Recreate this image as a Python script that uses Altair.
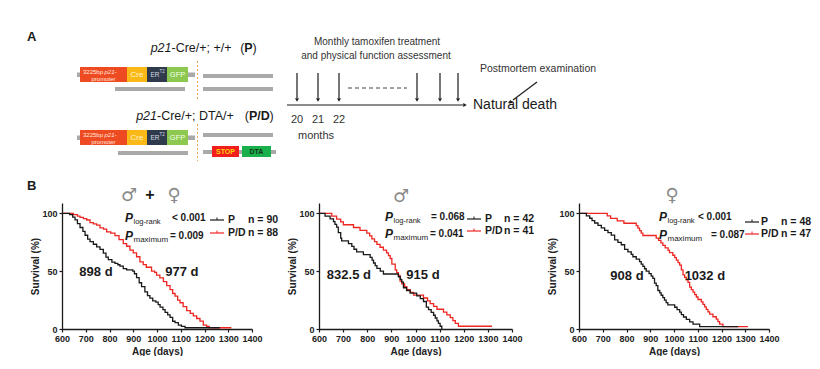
import altair as alt
import pandas as pd

# ---------------- data ----------------
# Kaplan-Meier curves: [age (days), survival (%)]
ALL_P = [[600,100],[632,98.9],[645,96.7],[655,94.4],[665,91.1],[676,87.8],[688,84.4],[697,81.1],
         [708,77.8],[718,75.6],[732,73.3],[746,71.1],[760,68.9],[774,65.6],[785,62.2],[795,60],
         [810,57.8],[823,56.7],[835,55.6],[844,54.4],[858,52.2],[872,51.1],[898,50],[905,47.8],
         [914,44.4],[925,40],[935,36.7],[949,32.2],[960,28.9],[970,26.7],[982,24.4],[995,23.3],
         [1005,21.1],[1013,18.9],[1025,16.7],[1034,14.4],[1045,12.2],[1055,10],[1066,6.7],
         [1076,5.6],[1090,3.3],[1103,2.2],[1118,1.1],[1265,1.1]]
ALL_PD = [[600,100],[648,98.9],[665,97.7],[676,96.6],[690,95.5],[704,94.3],[718,92],[732,90.9],
          [746,89.8],[760,87.5],[775,86.4],[788,84.1],[805,83],[823,80.7],[840,77.3],[858,73.9],
          [872,71.6],[886,68.2],[900,65.9],[914,62.5],[928,58],[942,55.7],[955,53.4],[977,50],
          [990,48.9],[998,46.6],[1012,44.3],[1027,40.9],[1041,37.5],[1055,34.1],[1066,30.7],
          [1076,28.4],[1087,25],[1097,22.7],[1110,19.3],[1125,15.9],[1140,13.6],[1153,11.4],
          [1167,9.1],[1181,6.8],[1195,3.4],[1209,2.3],[1220,1.1],[1313,1.1]]
MALE_P = [[600,100],[625,97.6],[646,95.2],[660,92.9],[666,90.5],[673,88.1],[680,83.3],[690,78.6],
          [694,76.2],[722,73.8],[736,71.4],[745,69],[756,66.7],[784,64.3],[812,61.9],[820,59.5],
          [826,57.1],[833,54.8],[840,52.4],[854,50],[867,47.6],[929,45.2],[937,42.9],[943,40.5],
          [950,35.7],[963,33.3],[978,31],[1005,28.6],[1020,26.2],[1033,23.8],[1045,19],[1054,16.7],
          [1065,14.3],[1075,11.9],[1082,9.5],[1089,7.1],[1095,4.8],[1102,2.4],[1109,0]]
MALE_PD = [[600,100],[653,97.6],[673,95.1],[690,92.7],[701,90.2],[743,87.8],[770,85.4],[798,82.9],
           [810,80.5],[819,78],[830,75.6],[840,73.2],[853,70.7],[867,68.3],[880,65.9],[888,63.4],
           [895,61],[902,56.1],[916,51.2],[922,48.8],[929,46.3],[936,41.5],[943,39],[955,36.6],
           [964,34.1],[978,31.7],[992,29.3],[1033,26.8],[1050,24.4],[1061,22],[1075,19.5],
           [1089,17.1],[1116,14.6],[1130,12.2],[1144,9.8],[1155,7.3],[1165,4.9],[1178,2.4],[1317,2.4]]
FEM_P = [[600,100],[631,97.9],[645,95.8],[655,93.8],[666,91.7],[680,89.6],[694,87.5],[708,85.4],
         [722,83.3],[736,81.2],[750,77.1],[764,75],[778,72.9],[792,68.8],[806,66.7],[820,64.6],
         [827,62.5],[841,60.4],[855,58.3],[862,56.2],[869,54.2],[876,52.1],[883,50],[895,47.9],
         [904,45.8],[911,43.8],[918,39.6],[925,37.5],[932,33.3],[940,31.2],[946,29.2],[953,27.1],
         [960,25],[967,22.9],[974,20.8],[1003,18.8],[1013,16.7],[1024,14.6],[1031,12.5],
         [1040,10.4],[1052,8.3],[1066,6.2],[1080,4.2],[1108,2.1],[1270,2.1]]
FEM_PD = [[600,100],[719,97.9],[733,95.7],[761,93.6],[789,91.5],[841,89.4],[848,87.2],[855,85.1],
          [862,83],[869,80.9],[925,78.7],[935,76.6],[945,74.5],[953,72.3],[963,70.2],[975,68.1],
          [981,66],[995,63.8],[1003,61.7],[1010,59.6],[1017,57.4],[1024,55.3],[1031,51.1],
          [1038,46.8],[1045,44.7],[1052,42.6],[1059,40.4],[1066,36.2],[1073,34],[1080,31.9],
          [1087,29.8],[1094,27.7],[1101,25.5],[1115,23.4],[1122,21.3],[1129,19.1],[1136,17],
          [1143,14.9],[1150,12.8],[1164,10.6],[1178,8.5],[1185,6.4],[1192,4.3],[1206,2.1],[1311,2.1]]

P_LOGRANK = ["< 0.001", "= 0.068", "< 0.001"]
P_MAXIMUM = ["= 0.009", "= 0.041", "= 0.087"]
N_P = [90, 42, 48]
N_PD = [88, 41, 47]
MEDIAN_P = ["898 d", "832.5 d", "908 d"]
MEDIAN_PD = ["977 d", "915 d", "1032 d"]
X_TICKS = [600, 700, 800, 900, 1000, 1100, 1200, 1300, 1400]
Y_TICKS = [0, 50, 100]
MONTHS = ["20", "21", "22"]

# ---------------- styling / layout ----------------
BLACK = "#1a1a1a"
RED = "#ee2622"
GRAY = "#a9a9a9"
DARK = "#333333"
FONT = "Liberation Sans"
SYM = "DejaVu Sans"
W = [190, 193, 190]
H = 126
SP = 67
OX = [62, 62 + W[0] + SP, 62 + W[0] + SP + W[1] + SP]
OY = 203


def T(rows, ox, weight="normal", style="normal", align="left", font=FONT):
    df = pd.DataFrame({"x": [r[0] - ox for r in rows], "y": [r[1] - OY for r in rows],
                       "t": [r[2] for r in rows], "s": [r[3] for r in rows],
                       "c": [r[4] for r in rows]})
    return alt.Chart(df).mark_text(font=font, fontWeight=weight, fontStyle=style,
                                   align=align, baseline="middle").encode(
        x=alt.X("x:Q", scale=None), y=alt.Y("y:Q", scale=None), text=alt.Text("t:N"),
        size=alt.Size("s:Q", scale=None), color=alt.Color("c:N", scale=None))


def R(rows, ox, opacity=1.0):
    df = pd.DataFrame({"x": [r[0] - ox for r in rows], "y": [r[1] - OY for r in rows],
                       "x2": [r[2] - ox for r in rows], "y2": [r[3] - OY for r in rows],
                       "c": [r[4] for r in rows]})
    return alt.Chart(df).mark_rect(opacity=opacity).encode(
        x=alt.X("x:Q", scale=None), x2="x2:Q", y=alt.Y("y:Q", scale=None), y2="y2:Q",
        color=alt.Color("c:N", scale=None))


def L(rows, ox, width=1.2, dash=None, color=BLACK):
    kw = dict(strokeWidth=width, color=color)
    if dash:
        kw["strokeDash"] = dash
    df = pd.DataFrame({"x": [r[0] - ox for r in rows], "y": [r[1] - OY for r in rows],
                       "x2": [r[2] - ox for r in rows], "y2": [r[3] - OY for r in rows]})
    return alt.Chart(df).mark_rule(**kw).encode(
        x=alt.X("x:Q", scale=None), x2="x2:Q", y=alt.Y("y:Q", scale=None), y2="y2:Q")


def PT(rows, ox, shape, size, angle=0, color=BLACK):
    df = pd.DataFrame({"x": [r[0] - ox for r in rows], "y": [r[1] - OY for r in rows]})
    return alt.Chart(df).mark_point(shape=shape, filled=True, size=size, color=color,
                                    opacity=1, angle=angle, strokeWidth=0).encode(
        x=alt.X("x:Q", scale=None), y=alt.Y("y:Q", scale=None))


def km(i, p, pdd, med_pos, ann):
    ox = OX[i]
    xs = alt.Scale(domain=[600, 1400], nice=False, zero=False)
    ys = alt.Scale(domain=[0, 109], nice=False)
    ax_x = alt.Axis(values=X_TICKS, title="Age (days)", format="d", labelFlush=False)
    ax_y = alt.Axis(values=Y_TICKS, title="Survival (%)", format="d", labelFlush=False)
    df_pd = pd.DataFrame({"day": [d for d, s in pdd], "surv": [s for d, s in pdd]})
    df_p = pd.DataFrame({"day": [d for d, s in p], "surv": [s for d, s in p]})
    red = alt.Chart(df_pd).mark_line(interpolate="step-after", strokeWidth=1.3, color=RED).encode(
        x=alt.X("day:Q", scale=xs, axis=ax_x), y=alt.Y("surv:Q", scale=ys, axis=ax_y))
    blk = alt.Chart(df_p).mark_line(interpolate="step-after", strokeWidth=1.3, color=BLACK).encode(
        x=alt.X("day:Q", scale=xs, axis=ax_x), y=alt.Y("surv:Q", scale=ys, axis=ax_y))
    med = alt.Chart(pd.DataFrame({"day": [med_pos[0][0], med_pos[1][0]],
                                  "surv": [med_pos[0][1], med_pos[1][1]],
                                  "t": [MEDIAN_P[i], MEDIAN_PD[i]]})).mark_text(
        font=FONT, fontWeight="bold", fontSize=13, color=BLACK).encode(
        x=alt.X("day:Q", scale=xs, axis=ax_x), y=alt.Y("surv:Q", scale=ys, axis=ax_y),
        text="t:N")
    a = ann
    sx = a["px"] + 8.5
    layers = [red, blk, med,
              # P values
              T([(a["px"], a["r1"], "P", 12, BLACK), (a["px"], a["r2"], "P", 12, BLACK)], ox,
                weight="bold", style="italic"),
              T([(sx, a["r1"] + 4, "log-rank", 7.5, BLACK),
                 (sx, a["r2"] + 4, "maximum", 8, BLACK)], ox),
              T([(a["v1"], a["r1"], P_LOGRANK[i], 10, BLACK),
                 (a["v2"], a["r2"], P_MAXIMUM[i], 10, BLACK)], ox, weight="bold"),
              # legend
              L([(a["lx"], a["l1"], a["lx"] + 14, a["l1"])], ox, 1.2, color=BLACK),
              L([(a["lx"] + 7, a["l1"] - 2.5, a["lx"] + 7, a["l1"])], ox, 1.0, color=BLACK),
              L([(a["lx"], a["l2"], a["lx"] + 14, a["l2"])], ox, 1.2, color=RED),
              L([(a["lx"] + 7, a["l2"] - 2.5, a["lx"] + 7, a["l2"])], ox, 1.0, color=RED),
              T([(a["tx"], a["l1"], "P", 10.5, BLACK), (a["tx"], a["l2"], "P/D", 10.5, BLACK),
                 (a["nx"], a["l1"], f"n = {N_P[i]}", 10.5, BLACK),
                 (a["nx"], a["l2"], f"n = {N_PD[i]}", 10.5, BLACK)], ox, weight="bold"),
              ]
    return layers


ANN = [
    dict(px=125, v1=172, v2=170, r1=218, r2=236, lx=210, l1=220, l2=233, tx=228, nx=248),
    dict(px=385, v1=431, v2=430, r1=217, r2=234, lx=467, l1=219, l2=231, tx=485, nx=504),
    dict(px=659, v1=698, v2=711, r1=217, r2=235, lx=745, l1=222, l2=234, tx=761, nx=781),
]
MED_POS = [[(743, 49), (1105, 49)], [(724, 46.5), (1031, 46.5)], [(802, 45.7), (1130, 45.7)]]

# ---------------- panel A schematic (drawn in page pixels) ----------------
o = OX[0]
schem = []
schem.append(R([(8, 8, 9, 9, "#ffffff")], o, opacity=0.0))  # page anchor
boxes = []
for dy in (0, 63):
    boxes += [(77, 72.5 + dy, 195, 77 + dy, GRAY),
              (80, 67 + dy, 127, 82 + dy, "#ef4b23"),
              (127, 67 + dy, 147, 82 + dy, "#fbb917"),
              (147, 67 + dy, 167, 82 + dy, "#2f3a4c"),
              (167, 67 + dy, 188, 82 + dy, "#8dc851")]
boxes += [(203, 74, 273, 78, GRAY), (203, 87, 273, 91, GRAY), (115, 87, 185, 91, GRAY),
          (203, 133, 273, 137, GRAY), (203, 150, 276, 154, GRAY), (118, 151, 188, 155, GRAY),
          (212, 146, 239, 157, "#f21d1d"), (242, 146, 271, 157, "#19b04b")]
schem.append(R(boxes, o))
schem.append(L([(197.5, 61, 197.5, 99), (197.5, 124, 197.5, 161)], o, 1.0, dash=[2, 2],
               color="#f3a65a"))
box_txt = []
for dy in (0, 63):
    box_txt += [(103.5, 78.5 + dy, "promoter", 6, "#ffe9df"),
                (137, 75 + dy, "Cre", 8, "#fff3cf"),
                (155, 75 + dy, "ER", 6.5, "#d5dbe4"),
                (177.5, 75 + dy, "GFP", 7.5, "#f4ffe8")]
schem.append(T(box_txt, o, align="center"))
schem.append(T([(103, 71.5, "3225bp", 6, "#ffe9df"), (103, 134.5, "3225bp", 6, "#ffe9df")], o,
               align="right"))
schem.append(T([(104.5, 71.5, "p21-", 6, "#ffe9df"), (104.5, 134.5, "p21-", 6, "#ffe9df")], o,
               style="italic"))
schem.append(T([(159.5, 72, "T2", 4.5, "#d5dbe4"), (159.5, 135, "T2", 4.5, "#d5dbe4")], o))
schem.append(T([(225.5, 151.5, "STOP", 7, "#ffd400"), (256.5, 151.5, "DTA", 7, "#12331a")], o,
               weight="bold", align="center"))
# genotype titles
schem.append(T([(171.5, 48, "p21", 12.5, BLACK), (157, 116, "p21", 12.5, BLACK)], o,
               style="italic", align="right"))
schem.append(T([(171.5, 48, "-Cre/+; +/+", 12.5, BLACK), (157, 116, "-Cre/+; DTA/+", 12.5, BLACK),
                (252.5, 48, ")", 12.5, BLACK), (269.5, 116, ")", 12.5, BLACK)], o))
schem.append(T([(244.5, 48, "(", 12.5, BLACK), (249, 116, "(", 12.5, BLACK)], o, align="right"))
schem.append(T([(248.5, 48, "P", 12.5, BLACK), (259.3, 116, "P/D", 12.5, BLACK)], o,
               weight="bold", align="center"))
# panel labels
schem.append(T([(27, 37, "A", 13, BLACK), (27, 186, "B", 13, BLACK)], o, weight="bold"))
# timeline
arrow_x = [297, 318, 339, 417, 440, 458]
schem.append(L([(x, 73, x, 98) for x in arrow_x], o, 1.2, color=BLACK))
schem.append(PT([(x, 100) for x in arrow_x], o, "triangle-down", 16))
schem.append(L([(348, 88, 407, 88)], o, 1.0, dash=[4, 3], color="#444444"))
schem.append(L([(287, 105, 463, 105)], o, 1.2, color=BLACK))
schem.append(PT([(465, 105)], o, "triangle-right", 16))
schem.append(L([(537, 82, 513, 100)], o, 1.2, color=BLACK))
schem.append(PT([(510.5, 102)], o, "triangle", 16, angle=233))
schem.append(T([(377, 42, "Monthly tamoxifen treatment", 10, DARK),
                (376, 56, "and physical function assessment", 10, DARK),
                (297, 120, MONTHS[0], 11, DARK), (318, 120, MONTHS[1], 11, DARK),
                (339, 120, MONTHS[2], 11, DARK), (316, 136, "months", 11, DARK)], o,
               align="center"))
schem.append(T([(473, 105, "Natural death", 14, BLACK),
                (480, 69, "Postmortem examination", 10.5, DARK)], o))

# sex symbols
sym1 = [T([(129, 196, "♂", 18, "#8a8a8a"), (174, 196, "♀", 18, "#8a8a8a")], OX[0], font=SYM,
          align="center"),
        T([(150, 195, "+", 16, BLACK)], OX[0], weight="bold", align="center")]
sym2 = [T([(401, 197, "♂", 18, "#8a8a8a")], OX[1], font=SYM, align="center")]
sym3 = [T([(672, 196, "♀", 18, "#8a8a8a")], OX[2], font=SYM, align="center")]

p1 = alt.layer(*(km(0, ALL_P, ALL_PD, MED_POS[0], ANN[0]) + sym1 + schem)).properties(
    width=W[0], height=H)
p2 = alt.layer(*(km(1, MALE_P, MALE_PD, MED_POS[1], ANN[1]) + sym2)).properties(
    width=W[1], height=H)
p3 = alt.layer(*(km(2, FEM_P, FEM_PD, MED_POS[2], ANN[2]) + sym3)).properties(
    width=W[2], height=H)

chart = alt.hconcat(p1, p2, p3, spacing=SP, bounds="flush").properties(
    padding={"left": 0, "top": 0, "right": 0, "bottom": 0}
).configure_view(stroke=None).configure_axis(
    domainColor=BLACK, domainWidth=1.3, tickColor=BLACK, tickWidth=1.2, tickSize=3,
    labelFont=FONT, labelFontSize=9, labelFontWeight="bold", labelColor="#222222",
    titleFont=FONT, titleFontSize=10, titleFontWeight="bold", titleColor="#222222",
    grid=False, labelOverlap=False, labelPadding=2
).configure_axisY(titlePadding=1).configure_axisX(titlePadding=3)

chart.save("out.html", embed_options={"renderer": "svg", "actions": False})
